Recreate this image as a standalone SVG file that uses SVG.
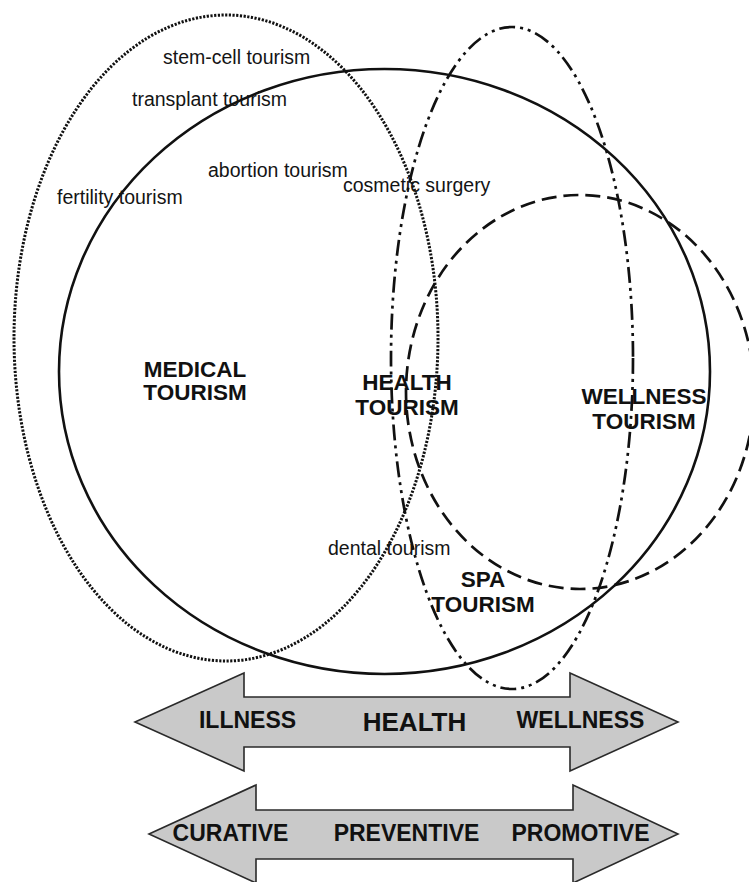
<svg xmlns="http://www.w3.org/2000/svg" width="749" height="882" viewBox="0 0 749 882">
<style>
  .sm { font-family: "Liberation Sans", Arial, sans-serif; font-size: 19.5px; fill: #141414; }
  .lb { font-family: "Liberation Sans", Arial, sans-serif; font-size: 22.5px; font-weight: bold; fill: #111; text-anchor: middle; }
  .ar { font-family: "Liberation Sans", Arial, sans-serif; font-size: 23px; font-weight: bold; fill: #111; text-anchor: middle; }
  .ring { fill: none; stroke: #111; stroke-width: 2.6; }
  .dotted { stroke-width: 3; stroke-dasharray: 2.2 1.5; }
  .dashed { stroke-width: 2.7; stroke-dasharray: 15 7; }
  .dashdot { stroke-width: 2.7; stroke-dasharray: 16 5 3 5 3 5; }
  .arrow { fill: #c9c9c9; stroke: #2a2a2a; stroke-width: 1.6; stroke-linejoin: miter; }
</style>
<rect width="749" height="882" fill="#ffffff"/>

<g id="health-tourism">
  <ellipse class="ring" cx="384.5" cy="371.5" rx="325.5" ry="302.5"/>
  <text class="lb" x="407" y="390">HEALTH</text>
  <text class="lb" x="407" y="415">TOURISM</text>
</g>

<g id="medical-tourism">
  <ellipse class="ring dotted" cx="226" cy="338" rx="212" ry="323"/>
  <text class="lb" x="195" y="377">MEDICAL</text>
  <text class="lb" x="195" y="400">TOURISM</text>
</g>

<g id="spa-tourism">
  <ellipse class="ring dashdot" cx="512" cy="358" rx="121" ry="331"/>
  <text class="lb" x="483" y="587">SPA</text>
  <text class="lb" x="483" y="612">TOURISM</text>
</g>

<g id="wellness-tourism">
  <ellipse class="ring dashed" cx="580" cy="392" rx="174" ry="197"/>
  <text class="lb" x="644" y="404">WELLNESS</text>
  <text class="lb" x="644" y="429">TOURISM</text>
</g>

<g id="examples">
  <text class="sm" x="163" y="64">stem-cell tourism</text>
  <text class="sm" x="132" y="106">transplant tourism</text>
  <text class="sm" x="208" y="177">abortion tourism</text>
  <text class="sm" x="343" y="192">cosmetic surgery</text>
  <text class="sm" x="57" y="204">fertility tourism</text>
  <text class="sm" x="328" y="555">dental tourism</text>
</g>

<g id="connectors">
  <g id="arrow-health">
    <polygon class="arrow" points="135,722 244,673 244,697 570,697 570,673 678,722 570,771 570,747 244,747 244,771"/>
    <text class="ar" x="247.5" y="728">ILLNESS</text>
    <text class="ar" x="414.5" y="731" style="font-size:26px">HEALTH</text>
    <text class="ar" x="580.5" y="728">WELLNESS</text>
  </g>
  <g id="arrow-care">
    <polygon class="arrow" points="149,834 256,785 256,810 573,810 573,785 678,834 573,883 573,859 256,859 256,883"/>
    <text class="ar" x="230.5" y="841">CURATIVE</text>
    <text class="ar" x="406.5" y="841">PREVENTIVE</text>
    <text class="ar" x="580.5" y="841">PROMOTIVE</text>
  </g>
</g>
</svg>
